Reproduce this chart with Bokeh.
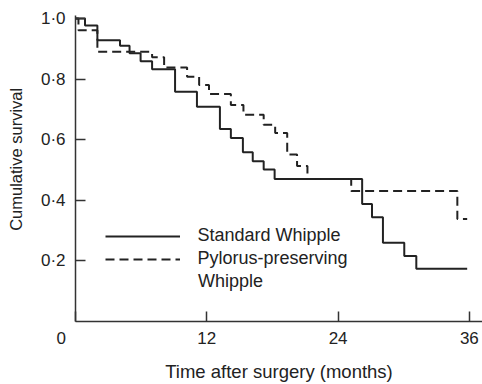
import math
from bokeh.plotting import figure
from bokeh.models import (Range1d, FixedTicker, CustomJSTickFormatter, Label,
                          Legend, LegendItem)
from bokeh.embed import file_html
from bokeh.resources import INLINE

# Kaplan-Meier step data (months, cumulative survival)
std_t = [0, 0.87, 2.0, 4.07, 4.94, 5.95, 7.0, 9.1, 11.1, 13.2, 14.2, 15.3, 16.2,
         17.2, 18.2, 26.2, 27.1, 28.1, 30.05, 31.15, 35.8]
std_s = [1.0, 0.977, 0.928, 0.910, 0.885, 0.859, 0.833, 0.758, 0.709, 0.635, 0.606,
         0.559, 0.529, 0.502, 0.470, 0.388, 0.344, 0.260, 0.216, 0.174, 0.174]

ppd_t = [0, 0.27, 2.0, 7.0, 8.1, 10.2, 11.3, 12.2, 14.2, 15.35, 17.2, 18.25,
         19.35, 20.25, 21.2, 25.2, 34.9, 35.8]
ppd_s = [1.0, 0.961, 0.890, 0.872, 0.838, 0.808, 0.781, 0.751, 0.715, 0.682, 0.649,
         0.622, 0.551, 0.513, 0.470, 0.431, 0.338, 0.338]

x_ticks = [0, 12, 24, 36]
y_ticks = [0.2, 0.4, 0.6, 0.8, 1.0]
series_labels = ["Standard Whipple", "Pylorus-preserving", "Whipple"]
x_title = "Time after surgery (months)"
y_title = "Cumulative survival"

FONT = "Liberation Sans"
INK = "#222222"


def step_path(ts, ss):
    xs, ys = [], []
    for i in range(len(ts) - 1):
        xs += [ts[i], ts[i + 1]]
        ys += [ss[i], ss[i]]
    return xs, ys


p = figure(width=482, height=384, output_backend="svg", toolbar_location=None,
           x_range=Range1d(0, 37.2), y_range=Range1d(0, 1.01),
           min_border_left=75, min_border_right=0, min_border_top=15,
           min_border_bottom=61)
p.outline_line_color = None
p.grid.visible = False
p.background_fill_color = "white"
p.border_fill_color = "white"

sx, sy = step_path(std_t, std_s)
px, py = step_path(ppd_t, ppd_s)
r1 = p.line(sx, sy, line_color=INK, line_width=2)
r2 = p.line(px, py, line_color=INK, line_width=2, line_dash="9 5")

for ax in (p.xaxis[0], p.yaxis[0]):
    ax.axis_line_color = "#333333"
    ax.axis_line_width = 1.5
    ax.major_tick_line_color = "#333333"
    ax.major_tick_line_width = 1.5
    ax.major_tick_in = 10
    ax.major_tick_out = 0
    ax.minor_tick_line_color = None
    ax.major_label_text_font = FONT
    ax.major_label_text_font_size = "17px"
    ax.major_label_text_color = INK
    ax.axis_label_text_font = FONT
    ax.axis_label_text_font_style = "normal"
    ax.axis_label_text_color = INK

# the shared origin "0" sits left of the corner: pad it with figure spaces
p.xaxis.ticker = FixedTicker(ticks=x_ticks)
p.xaxis.formatter = CustomJSTickFormatter(
    code="return tick == 0 ? '0\\u2007\\u2007\\u2007' : String(tick);")
p.xaxis.major_label_standoff = 7
p.xaxis.axis_label = x_title
p.xaxis.axis_label_text_font_size = "18.5px"
p.xaxis.axis_label_standoff = 10

p.yaxis.ticker = FixedTicker(ticks=y_ticks)
p.yaxis.formatter = CustomJSTickFormatter(
    code="return tick.toFixed(1).replace('.', '\\u00b7');")
p.yaxis.major_label_standoff = 10
p.yaxis.major_label_orientation = "horizontal"
# title sits a little above the axis centre in the original
p.yaxis.axis_label = "\u2007\u2007" + y_title
p.yaxis.axis_label_text_font_size = "16.5px"
p.yaxis.axis_label_standoff = 13

legend = Legend(items=[LegendItem(label=series_labels[0], renderers=[r1]),
                       LegendItem(label=series_labels[1], renderers=[r2])],
                location=(29.5, 51.5), orientation="vertical",
                glyph_width=75, glyph_height=22, label_height=22, spacing=1,
                padding=0, margin=0, label_standoff=18,
                label_text_font=FONT, label_text_font_size="18px",
                label_text_color=INK,
                border_line_alpha=0, background_fill_alpha=0)
p.add_layout(legend)

p.add_layout(Label(x=11.2, y=0.135, text=series_labels[2],
                   text_align="left", text_baseline="middle",
                   text_font=FONT, text_font_size="18px", text_color=INK))

open("out.html", "w").write(file_html(p, INLINE))
